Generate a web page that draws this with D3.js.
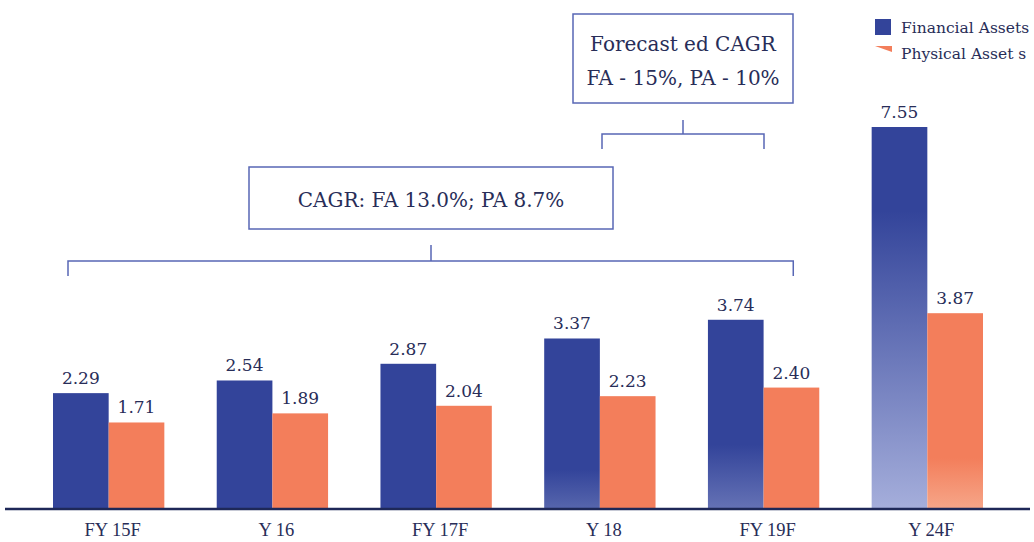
<!DOCTYPE html>
<html>
<head>
<meta charset="utf-8">
<script src="https://cdn.jsdelivr.net/npm/d3@7"></script>
<style>
  body { margin: 0; background: #ffffff; }
  svg { display: block; }
  text { font-family: "DejaVu Serif", serif; fill: #282d58; }
</style>
</head>
<body>
<svg id="chart" width="1034" height="542"></svg>
<script>
// Household savings: financial vs physical assets (Rs lakh crore)
const categories = ["FY 15F", "Y 16", "FY 17F", "Y 18", "FY 19F", "Y 24F"];
const financialAssets = [2.29, 2.54, 2.87, 3.37, 3.74, 7.55];
const physicalAssets = [1.71, 1.89, 2.04, 2.23, 2.40, 3.87];
const seriesNames = ["Financial Assets", "Physical Asset s"];
const seriesKeys = ["fa", "pa"];

const rows = categories.map((c, i) => ({ cat: c, fa: financialAssets[i], pa: physicalAssets[i] }));

// Colours; lower parts of the later bars fade lighter
const colors = { fa: "#33449a", pa: "#f37e5b" };
const fades = {
  fa: [null, null, null, { from: 0.77, to: "#5766ad" }, { from: 0.66, to: "#6572b5" }, { from: 0.22, to: "#a5aedb" }],
  pa: [null, null, null, null, null, { from: 0.74, to: "#f6a689" }]
};

const svg = d3.select("#chart");
const baseY = 509;

const x0 = d3.scaleBand().domain(categories).range([53, 983]).paddingInner(0.32).paddingOuter(0);
const x1 = d3.scaleBand().domain(seriesKeys).range([0, x0.bandwidth()]).padding(0);
const y = d3.scaleLinear().domain([0, 7.55]).range([baseY, 127]);

// gradient definitions
const defs = svg.append("defs");
seriesKeys.forEach(k => {
  fades[k].forEach((f, i) => {
    if (!f) return;
    const g = defs.append("linearGradient")
      .attr("id", `grad-${k}-${i}`)
      .attr("x1", 0).attr("y1", 0).attr("x2", 0).attr("y2", 1);
    g.append("stop").attr("offset", 0).attr("stop-color", colors[k]);
    g.append("stop").attr("offset", f.from).attr("stop-color", colors[k]);
    g.append("stop").attr("offset", 1).attr("stop-color", f.to);
  });
});

const fillFor = (k, i) => fades[k][i] ? `url(#grad-${k}-${i})` : colors[k];

// bars
const groups = svg.append("g").selectAll("g")
  .data(rows).join("g")
  .attr("transform", d => `translate(${x0(d.cat)},0)`);

groups.selectAll("rect")
  .data((d, i) => seriesKeys.map(k => ({ k, v: d[k], i })))
  .join("rect")
  .attr("x", d => x1(d.k))
  .attr("y", d => y(d.v))
  .attr("width", x1.bandwidth())
  .attr("height", d => y(0) - y(d.v))
  .attr("fill", d => fillFor(d.k, d.i));

// value labels
groups.selectAll("text.val")
  .data((d, i) => seriesKeys.map(k => ({ k, v: d[k], i })))
  .join("text")
  .attr("class", "val")
  .attr("x", d => x1(d.k) + x1.bandwidth() / 2)
  .attr("y", d => y(d.v) - 9)
  .attr("text-anchor", "middle")
  .style("font-size", "17px")
  .text(d => d.v.toFixed(2));

// x axis
const xAxis = svg.append("g")
  .attr("transform", `translate(0,${baseY})`)
  .call(d3.axisBottom(x0).tickSize(0).tickPadding(14));
xAxis.select(".domain").attr("d", "M5,0H1030").attr("stroke", "#1e2858").attr("stroke-width", 2.4);
xAxis.selectAll(".tick text")
  .attr("dx", 4)
  .style("font-family", "'Liberation Serif', serif")
  .style("font-size", "18.5px")
  .attr("fill", "#282d58");

// annotations
const boxStroke = "#5867b5";
function box(x, yTop, w, h, lines, lineY) {
  svg.append("rect").attr("x", x).attr("y", yTop).attr("width", w).attr("height", h)
    .attr("fill", "#fff").attr("stroke", boxStroke).attr("stroke-width", 1.5);
  lines.forEach((t, j) => {
    svg.append("text").attr("x", x + w / 2).attr("y", lineY[j])
      .attr("text-anchor", "middle").style("font-size", "20px").text(t);
  });
}
function bracket(cx, stemTop, barY, left, right, tickBottom) {
  const p = d3.path();
  p.moveTo(cx, stemTop); p.lineTo(cx, barY);
  p.moveTo(left, tickBottom); p.lineTo(left, barY); p.lineTo(right, barY); p.lineTo(right, tickBottom);
  svg.append("path").attr("d", p.toString()).attr("fill", "none")
    .attr("stroke", boxStroke).attr("stroke-width", 1.5);
}

// historical CAGR: FY15 .. FY19
const histLeft = x0(categories[0]) + 15;
const histRight = x0(categories[4]) + x0.bandwidth() - 26;
box(249, 167, 364, 62, ["CAGR: FA 13.0%; PA 8.7%"], [207]);
bracket(431, 245, 261, histLeft, histRight, 276);

// forecast CAGR: FY19 .. FY24
box(573, 14, 220, 89, ["Forecast ed CAGR", "FA - 15%, PA - 10%"], [51, 85]);
bracket(683, 120, 134, 602, 764, 149);

// legend
const legend = svg.append("g");
legend.append("rect").attr("x", 875).attr("y", 19).attr("width", 16).attr("height", 16).attr("fill", colors.fa);
legend.append("path").attr("d", "M875,46L892,46L892,52Z").attr("fill", colors.pa);
legend.append("text").attr("x", 901).attr("y", 33).style("font-size", "15.5px").text(seriesNames[0]);
legend.append("text").attr("x", 901).attr("y", 59).style("font-size", "15.5px").text(seriesNames[1]);
</script>
</body>
</html>
